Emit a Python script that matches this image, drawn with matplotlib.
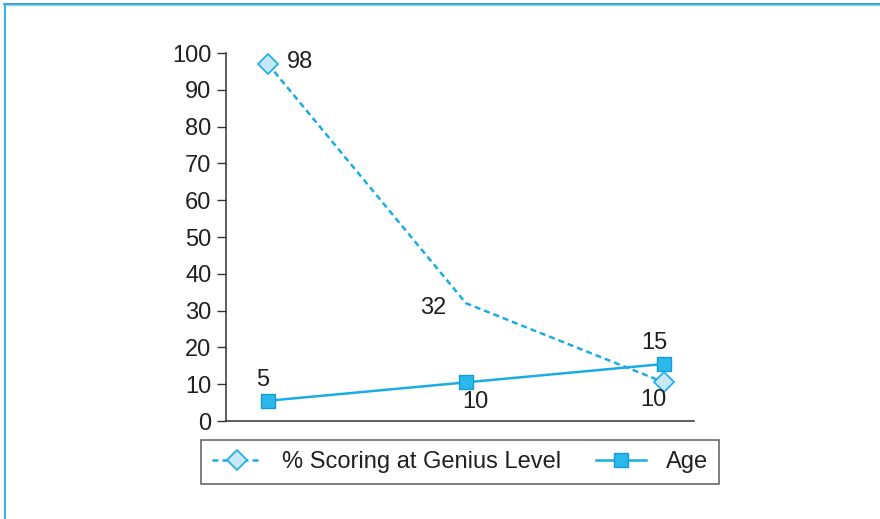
import matplotlib
matplotlib.use("Agg")
import matplotlib.pyplot as plt
from matplotlib.lines import Line2D

plt.rcParams["font.family"] = ["Liberation Sans", "DejaVu Sans"]

# データ
categories = ["A", "B", "C"]
genius_pct = [97, 32, 10.5]
genius_labels = ["98", "32", "10"]
age = [5.5, 10.5, 15.5]
age_labels = ["5", "10", "15"]
y_ticks = list(range(0, 101, 10))

LINE = "#1AADE4"
TEXT = "#231F20"
FS = 17

fig = plt.figure(figsize=(8.8, 5.19), dpi=100)
ax = fig.add_axes([226 / 880, 1 - 421 / 519, 468 / 880, 368 / 519])

x = list(range(len(categories)))
# 中央点にはマーカーなし (原図どおり)
ax.plot(x, genius_pct, color=LINE, lw=1.8, dashes=(2.4, 1.6),
        marker="D", ms=10.5, mfc="#C8E8F7", mec=LINE, mew=1.2,
        markevery=[0, 2], label="% Scoring at Genius Level")
ax.plot(x, age, color=LINE, lw=1.8,
        marker="s", ms=10, mfc="#2BB9EB", mec="#1A9AD6", mew=1.0,
        label="Age")

# データラベル (offset: pixels)
g_off = [(32, 2), (-33, -5), (-11, -18)]
a_off = [(-5, 21), (9, -20), (-10, 21)]
for xi, v, t, o in zip(x, genius_pct, genius_labels, g_off):
    ax.annotate(t, (xi, v), xytext=o, textcoords="offset pixels",
                ha="center", va="center", fontsize=FS, color=TEXT)
for xi, v, t, o in zip(x, age, age_labels, a_off):
    ax.annotate(t, (xi, v), xytext=o, textcoords="offset pixels",
                ha="center", va="center", fontsize=FS, color=TEXT)

ax.set_xlim(-42 / 198, 2 + 30 / 198)
ax.set_ylim(0, 100)
ax.set_yticks(y_ticks)
ax.set_xticks([])
ax.tick_params(axis="y", length=6.5, width=1, color="#333333",
               labelsize=FS, labelcolor=TEXT, pad=4)
for s in ("top", "right"):
    ax.spines[s].set_visible(False)
for s in ("left", "bottom"):
    ax.spines[s].set_color("#333333")
    ax.spines[s].set_linewidth(1.1)

leg = fig.legend(loc="center", bbox_to_anchor=(460 / 880, 1 - 462 / 519),
                 ncol=2, fontsize=FS, frameon=True, fancybox=False,
                 edgecolor="#333333", handlelength=2.1, columnspacing=1.5,
                 borderpad=0.45, handletextpad=0.85, labelcolor=TEXT)
leg.get_frame().set_linewidth(1.1)

# 外枠 (上・左)
fig.add_artist(Line2D([4 / 880, 1], [1 - 3.5 / 519] * 2, color="#1A8AD0", lw=1.2))
fig.add_artist(Line2D([4 / 880, 1], [1 - 5 / 519] * 2, color="#8ED8F5", lw=1.0))
fig.add_artist(Line2D([4.5 / 880] * 2, [0, 1 - 3.5 / 519], color="#29B6E8", lw=1.4))

fig.savefig("out.png", dpi=100)
